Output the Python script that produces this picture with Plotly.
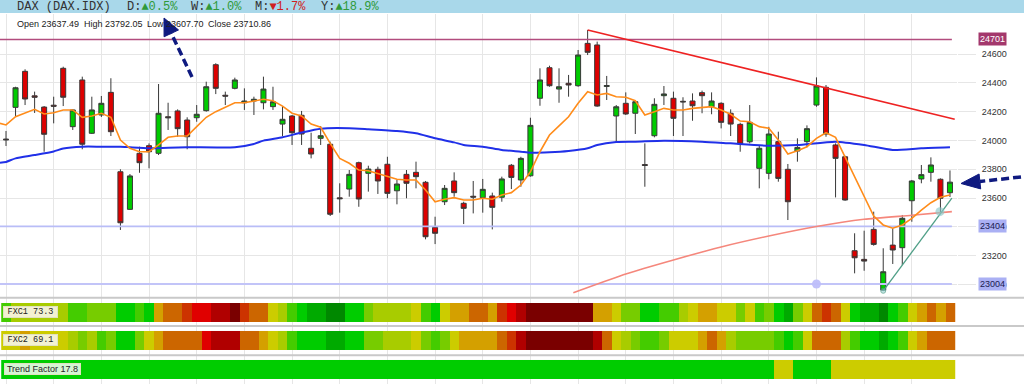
import plotly.graph_objects as go

W, H = 1024, 384

# ---------------- data ----------------
opens = [24010, 24230, 24480, 24310, 24232, 24245, 24501, 24096, 24420, 24050,
         24177, 24334, 23783, 23522, 23911, 23964, 23911, 24165, 24205, 24142,
         24158, 24207, 24526, 24314, 24362, 24262, 24274, 24262, 24235, 24114,
         24170, 24175, 23946, 24015, 23974, 23602, 23663, 23846, 23772, 23800,
         23835, 23651, 23765, 23779, 23710, 23397, 23575, 23719, 23564, 23613,
         23603, 23615, 23606, 23828, 23726, 23755, 24293, 24505, 24357, 24397,
         24380, 24674, 24663, 24375, 24170, 24258, 24189, 23833, 24033, 24311,
         24293, 24272, 24274, 24332, 24234, 24258, 24189, 24112, 23991, 23807,
         23772, 23992, 23800, 23927, 23992, 24246, 24369, 23969, 23887, 23235,
         23175, 23383, 22962, 23274, 23256, 23582, 23733, 23779, 23731, 23637.49]
highs = [24066, 24373, 24494, 24339, 24239, 24304, 24512, 24216, 24443, 24304,
         24309, 24432, 23800, 23767, 23957, 23980, 24392, 24262, 24216, 24161,
         24246, 24408, 24536, 24339, 24436, 24362, 24304, 24443, 24373, 24239,
         24177, 24205, 24054, 24100, 23992, 23703, 23795, 23853, 23825, 23818,
         23887, 23726, 23795, 23853, 23719, 23471, 23691, 23779, 23575, 23719,
         23733, 23638, 23749, 23837, 23887, 24158, 24501, 24519, 24501, 24455,
         24628, 24767, 24686, 24448, 24246, 24334, 24281, 23980, 24293, 24378,
         24339, 24300, 24327, 24346, 24334, 24265, 24216, 24123, 24246, 23962,
         24095, 24061, 23837, 24015, 24105, 24438, 24385, 23980, 23894, 23356,
         23374, 23506, 23252, 23390, 23483, 23726, 23830, 23883, 23737, 23792.05]
lows = [23962, 24170, 24246, 24191, 23922, 24119, 24239, 24073, 23939, 24045,
        24163, 24031, 23379, 23518, 23776, 23807, 23899, 24073, 24026, 23939,
        24130, 24200, 24322, 24246, 24355, 24212, 24177, 24216, 24212, 24031,
        23969, 23969, 23876, 23969, 23476, 23499, 23610, 23540, 23645, 23629,
        23599, 23557, 23599, 23668, 23314, 23281, 23552, 23610, 23420, 23494,
        23499, 23383, 23575, 23663, 23679, 23749, 24241, 24373, 24262, 24304,
        24373, 24593, 24234, 24281, 23985, 24177, 24045, 23679, 24022, 24246,
        24031, 24031, 24137, 24189, 24182, 24084, 24031, 23922, 23980, 23668,
        23731, 23714, 23448, 23853, 23953, 24234, 24026, 23605, 23582, 23078,
        23096, 23270, 22957, 23143, 23136, 23436, 23703, 23714, 23494, 23607.70]
closes = [24005, 24366, 24288, 24300, 24043, 24238, 24300, 24212, 23974, 24212,
          24258, 24061, 23429, 23754, 23846, 23922, 24189, 24158, 24082, 24026,
          24182, 24373, 24362, 24308, 24420, 24274, 24286, 24357, 24269, 24147,
          24054, 24045, 23906, 24033, 23488, 23596, 23765, 23594, 23802, 23719,
          23633, 23698, 23703, 23749, 23332, 23356, 23668, 23638, 23529, 23607,
          23661, 23536, 23733, 23744, 23876, 24105, 24420, 24380, 24373, 24385,
          24593, 24612, 24239, 24381, 24234, 24184, 24269, 23827, 24251, 24323,
          24154, 24268, 24241, 24311, 24274, 24126, 24114, 23975, 24126, 23946,
          24045, 23737, 23575, 23952, 24082, 24378, 24045, 23876, 23587, 23186,
          23163, 23279, 23089, 23240, 23460, 23719, 23763, 23830, 23599, 23710.86]

# short moving average (orange), one value per candle, plus value at the left edge
ma_fast_start = 24119
ma_fast = [24108, 24165, 24189, 24216, 24184, 24193, 24212, 24212, 24161, 24170,
           24189, 24161, 24003, 23946, 23922, 23922, 23969, 24022, 24031, 24031,
           24096, 24161, 24200, 24230, 24262, 24262, 24276, 24286, 24276, 24239,
           24189, 24170, 24114, 24092, 23980, 23876, 23842, 23795, 23790, 23772,
           23749, 23731, 23726, 23726, 23656, 23575, 23592, 23603, 23587, 23587,
           23599, 23592, 23622, 23638, 23691, 23783, 23922, 24038, 24101, 24165,
           24258, 24338, 24316, 24327, 24304, 24300, 24276, 24177, 24200, 24223,
           24212, 24212, 24223, 24230, 24235, 24212, 24182, 24135, 24130, 24096,
           24085, 24003, 23906, 23929, 23957, 24015, 24054, 24022, 23887, 23749,
           23606, 23476, 23414, 23391, 23414, 23460, 23517, 23568, 23606, 23622]

# medium moving average (blue), read at sample candles
ma_mid_idx = [-0.63, 0, 1, 3, 5, 6, 8, 10, 12, 13, 15, 17, 19, 24, 26, 27, 29, 31, 33,
              36, 38, 41, 43, 45, 47, 48, 50, 52, 54, 55, 57, 59, 61, 62, 64, 66, 69,
              73, 76, 80, 83, 87, 90, 93, 96, 99]
ma_mid = [23846, 23851, 23876, 23899, 23924, 23944, 23957, 23957, 23957, 23953, 23946,
          23950, 23953, 23953, 23976, 23999, 24022, 24055, 24082, 24085, 24078, 24066,
          24050, 24015, 23987, 23969, 23957, 23934, 23922, 23915, 23918, 23927, 23946,
          23969, 23990, 23992, 23999, 23992, 23980, 23964, 23969, 23992, 23969, 23934,
          23946, 23953]

# long moving average (salmon)
ma_slow_idx = [59.5, 60, 65, 70, 75, 80, 85, 90, 95, 99.2]
ma_slow = [22944, 22956, 23074, 23171, 23261, 23337, 23403, 23453, 23481, 23506]

# drawn trend lines
res_idx = [61, 99.5]
res_val = [24767, 24148]
sup_idx = [92, 99.2]
sup_val = [22957, 23600]
cross_idx = [97.95]
cross_val = [23506]
anchor_idx = [85]
anchor_val = [23004]

# horizontal levels
level_top = 24701
level_mid = 23404
level_low = 23004

# price ticks
price_ticks = [23000, 23200, 23400, 23600, 23800, 24000, 24200, 24400, 24600]

# header
symbol = "DAX (DAX.IDX)"
perf_labels = ["D:", "W:", "M:", "Y:"]
perf_values = [0.5, 1.0, -1.7, 18.9]

# indicator strips (score 0 = deep red ... 12 = deep green)
fxc1 = [9, 7, 7, 7, 7, 7, 7, 9, 9, 8, 8, 8, 10, 10, 9, 10, 5, 4, 4, 3,
        2, 2, 1, 1, 0, 3, 4, 4, 6, 7, 9, 10, 11, 11, 12, 12, 10, 10, 8, 7,
        7, 7, 7, 6, 9, 10, 6, 5, 5, 4, 4, 5, 3, 2, 1, 0, 0, 0, 0, 0,
        0, 0, 5, 5, 6, 8, 8, 10, 10, 9, 9, 7, 6, 5, 5, 6, 6, 8, 6, 9,
        8, 10, 11, 8, 6, 4, 3, 4, 6, 10, 11, 11, 12, 10, 9, 6, 5, 4, 5, 4]
fxc2 = [6, 6, 5, 6, 6, 6, 6, 7, 8, 7, 9, 8, 10, 10, 8, 6, 5, 4, 4, 4,
        4, 2, 1, 1, 1, 4, 4, 5, 6, 7, 9, 10, 10, 10, 11, 11, 10, 10, 8, 8,
        7, 7, 7, 6, 8, 9, 8, 6, 5, 5, 5, 5, 4, 3, 1, 0, 0, 0, 0, 0,
        0, 0, 1, 4, 6, 7, 8, 9, 9, 8, 6, 6, 6, 5, 4, 5, 7, 8, 8, 8,
        8, 9, 10, 9, 6, 4, 4, 4, 7, 9, 10, 10, 11, 10, 9, 6, 5, 4, 4, 4]
trend = [10] * 81 + [6, 6] + [10] * 4 + [6] * 13
fxc1_value = 73.3
fxc2_value = 69.1
trend_value = 17.8

# ---------------- styling helpers ----------------
def px_x(p):
    return p / W

def px_y(p):
    return 1 - p / H

n_candles = len(closes)
idx = list(range(n_candles))

# main plot geometry (pixels)
PLOT_RIGHT = 957
MAIN_TOP, MAIN_BOT = 14, 297
STEP = 9.535
X0 = 6
x_range = [-X0 / STEP, (PLOT_RIGHT - X0) / STEP]
LINE_END = 99.2
P_PER_PX = 6.94
P_TOP = 24975 - P_PER_PX * MAIN_TOP
P_BOT = 24975 - P_PER_PX * MAIN_BOT

palette = ['#7a0000', '#b00000', '#e00000', '#cc3300', '#cc6600', '#d4a000', '#cccc00',
           '#a8cc00', '#77cc00', '#44cc00', '#00cc00', '#00aa00', '#008800']
ncol = len(palette)
cscale = []
for k, c in enumerate(palette):
    cscale.append([k / ncol, c])
    cscale.append([(k + 1) / ncol, c])

GRID = '#e6e6e6'

fig = go.Figure()

# horizontal level lines (under the candles)
for lv, col, wdt in [(level_top, '#b24c7e', 1.3), (level_mid, '#b9bdf7', 1.8),
                     (level_low, '#c2c4f8', 1.8)]:
    fig.add_trace(go.Scatter(x=[x_range[0], LINE_END], y=[lv, lv], mode='lines',
                             line=dict(color=col, width=wdt), hoverinfo='skip'))

fig.add_trace(go.Candlestick(
    x=idx, open=opens, high=highs, low=lows, close=closes,
    increasing=dict(fillcolor='#00cc00', line=dict(color='#383838', width=1)),
    decreasing=dict(fillcolor='#dd0000', line=dict(color='#383838', width=1)),
    whiskerwidth=0, hoverinfo='skip', xaxis='x', yaxis='y'))

fig.add_trace(go.Scatter(x=ma_slow_idx, y=ma_slow, mode='lines',
                         line=dict(color='#f5877c', width=1.6, shape='spline', smoothing=0.6),
                         hoverinfo='skip'))
fig.add_trace(go.Scatter(x=ma_mid_idx, y=ma_mid, mode='lines',
                         line=dict(color='#2030e8', width=2, shape='spline', smoothing=0.6),
                         hoverinfo='skip'))
fig.add_trace(go.Scatter(x=[-X0 / STEP] + idx, y=[ma_fast_start] + ma_fast, mode='lines',
                         line=dict(color='#ff8c1a', width=1.6), hoverinfo='skip'))
fig.add_trace(go.Scatter(x=res_idx, y=res_val, mode='lines',
                         line=dict(color='#ee2222', width=1.6), hoverinfo='skip'))
fig.add_trace(go.Scatter(x=sup_idx, y=sup_val, mode='lines+markers',
                         line=dict(color='#4f9f87', width=1.3),
                         marker=dict(size=[5, 0], color='rgba(130,200,200,0.7)'),
                         hoverinfo='skip'))
fig.add_trace(go.Scatter(x=cross_idx, y=cross_val, mode='markers',
                         marker=dict(size=9, color='rgba(140,200,200,0.65)'), hoverinfo='skip'))
fig.add_trace(go.Scatter(x=anchor_idx, y=anchor_val, mode='markers',
                         marker=dict(size=9, color='rgba(190,190,250,0.95)'), hoverinfo='skip'))

# indicator strips
for z, xa, ya in [(fxc1, 'x2', 'y2'), (fxc2, 'x3', 'y3'), (trend, 'x4', 'y4')]:
    fig.add_trace(go.Heatmap(z=[z], x=idx, y=[0], colorscale=cscale, zmin=-0.5,
                             zmax=ncol - 0.5, showscale=False, hoverinfo='skip',
                             xaxis=xa, yaxis=ya))

xdom = [0, PLOT_RIGHT / W]
xbase = dict(domain=xdom, range=x_range, showgrid=True, gridcolor=GRID, gridwidth=1,
             dtick=5, tick0=0, showticklabels=False, zeroline=False, showline=False,
             ticks='', fixedrange=True)

shapes = []
# header bar
shapes.append(dict(type='rect', xref='paper', yref='paper', x0=0, x1=1,
                   y0=px_y(13), y1=1, fillcolor='#a9d8ea', line=dict(width=0), layer='below'))
# panel separators
for yy in [297.7, 326.0, 355.2]:
    shapes.append(dict(type='line', xref='paper', yref='paper', x0=0, x1=1,
                       y0=px_y(yy), y1=px_y(yy), line=dict(color='#c9c9c9', width=2)))

NAVY = '#0f1a80'
def arrow(tail, tip, head_len, half_w):
    dx, dy = tip[0] - tail[0], tip[1] - tail[1]
    ln = (dx * dx + dy * dy) ** 0.5
    ux, uy = dx / ln, dy / ln
    bx, by = tip[0] - head_len * ux, tip[1] - head_len * uy
    pxv, pyv = -uy, ux
    c1 = (bx + half_w * pxv, by + half_w * pyv)
    c2 = (bx - half_w * pxv, by - half_w * pyv)
    out = [dict(type='line', xref='paper', yref='paper', x0=px_x(tail[0]), y0=px_y(tail[1]),
                x1=px_x(bx), y1=px_y(by), line=dict(color=NAVY, width=3.5, dash='8px,4px'))]
    path = 'M {} {} L {} {} L {} {} Z'.format(px_x(tip[0]), px_y(tip[1]), px_x(c1[0]),
                                               px_y(c1[1]), px_x(c2[0]), px_y(c2[1]))
    out.append(dict(type='path', xref='paper', yref='paper', path=path,
                    fillcolor=NAVY, line=dict(color=NAVY, width=1)))
    return out

shapes += arrow((192, 77), (164, 18), 17, 8)
shapes += arrow((1021, 177), (961, 183.5), 19, 7.5)

annotations = []
MONO = 'Liberation Mono, Courier New, monospace'
annotations.append(dict(text=symbol, x=px_x(15), y=px_y(6.5), xref='paper', yref='paper',
                        xanchor='left', yanchor='middle', showarrow=False,
                        font=dict(family=MONO, size=12, color='#333333')))
perf_x = [125, 189.3, 253.3, 319.3]
for lab, val, xx in zip(perf_labels, perf_values, perf_x):
    if val >= 0:
        t = "{}<span style='color:#2f9a3a'>▲{:.1f}%</span>".format(lab, abs(val))
    else:
        t = "{}<span style='color:#d02020'>▼{:.1f}%</span>".format(lab, abs(val))
    annotations.append(dict(text=t, x=px_x(xx), y=px_y(6.5), xref='paper', yref='paper',
                            xanchor='left', yanchor='middle', showarrow=False,
                            font=dict(family=MONO, size=12, color='#333333')))

ohlc_parts = [("Open", opens[-1], 15), ("High", highs[-1], 81.7),
              ("Low", lows[-1], 145), ("Close", closes[-1], 206)]
for name, v, xx in ohlc_parts:
    annotations.append(dict(text="{} {:.2f}".format(name, v), x=px_x(xx), y=px_y(24),
                            xref='paper', yref='paper', xanchor='left', yanchor='middle',
                            showarrow=False,
                            font=dict(family='Liberation Sans, Arial', size=9, color='#222222')))

for lv, bg, fc in [(level_top, '#a3386c', '#ffffff'), (level_mid, '#aab0f4', '#1a1a50'),
                   (level_low, '#aab0f4', '#1a1a50')]:
    annotations.append(dict(text=str(lv), x=px_x(992.5), y=lv, xref='paper', yref='y',
                            xanchor='center', yanchor='middle', showarrow=False,
                            bgcolor=bg, borderpad=1,
                            font=dict(family='Liberation Sans, Arial', size=9, color=fc)))

for txt, yy, x0, wdt, bg, fam in [
        ("FXC1 {:.1f}".format(fxc1_value), 312, 3.3, 53, '#f3f1d2', MONO),
        ("FXC2 {:.1f}".format(fxc2_value), 340.3, 3.3, 53, '#f3f1d2', MONO),
        ("Trend Factor {:.1f}".format(trend_value), 368.5, 4, 75, '#d6f5d4',
         'Liberation Sans, Arial')]:
    annotations.append(dict(text=txt, x=px_x(x0), y=px_y(yy), xref='paper', yref='paper',
                            xanchor='left', yanchor='middle', showarrow=False,
                            bgcolor=bg, bordercolor='#e2e2c0', borderwidth=1, borderpad=0,
                            width=wdt, height=10, align='center',
                            font=dict(family=fam, size=8.5 if fam == MONO else 9,
                                      color='#222222')))

fig.update_layout(
    width=W, height=H, margin=dict(l=0, r=0, t=0, b=0),
    paper_bgcolor='white', plot_bgcolor='white', showlegend=False,
    boxgap=0.25,
    xaxis=dict(**xbase, anchor='y', rangeslider=dict(visible=False)),
    xaxis2=dict(**xbase, anchor='y2', matches='x'),
    xaxis3=dict(**xbase, anchor='y3', matches='x'),
    xaxis4=dict(**xbase, anchor='y4', matches='x'),
    yaxis=dict(domain=[px_y(MAIN_BOT), px_y(MAIN_TOP)], range=[P_BOT, P_TOP],
               side='right', anchor='x', tickvals=price_ticks,
               ticktext=[str(t) for t in price_ticks],
               showgrid=True, gridcolor=GRID, gridwidth=1, zeroline=False, showline=False,
               ticks='outside', ticklen=18, tickcolor=GRID, ticklabelstandoff=4,
               tickfont=dict(family='Liberation Sans, Arial', size=9, color='#333333'),
               fixedrange=True),
    yaxis2=dict(domain=[px_y(327), px_y(298)], range=[-0.763, 0.763], visible=False,
                anchor='x2', fixedrange=True),
    yaxis3=dict(domain=[px_y(356), px_y(327)], range=[-0.816, 0.71], visible=False,
                anchor='x3', fixedrange=True),
    yaxis4=dict(domain=[0, px_y(356)], range=[-0.763, 0.71], visible=False,
                anchor='x4', fixedrange=True),
    shapes=shapes, annotations=annotations,
)

fig.write_html("out.html", config=dict(displayModeBar=False, staticPlot=True))
